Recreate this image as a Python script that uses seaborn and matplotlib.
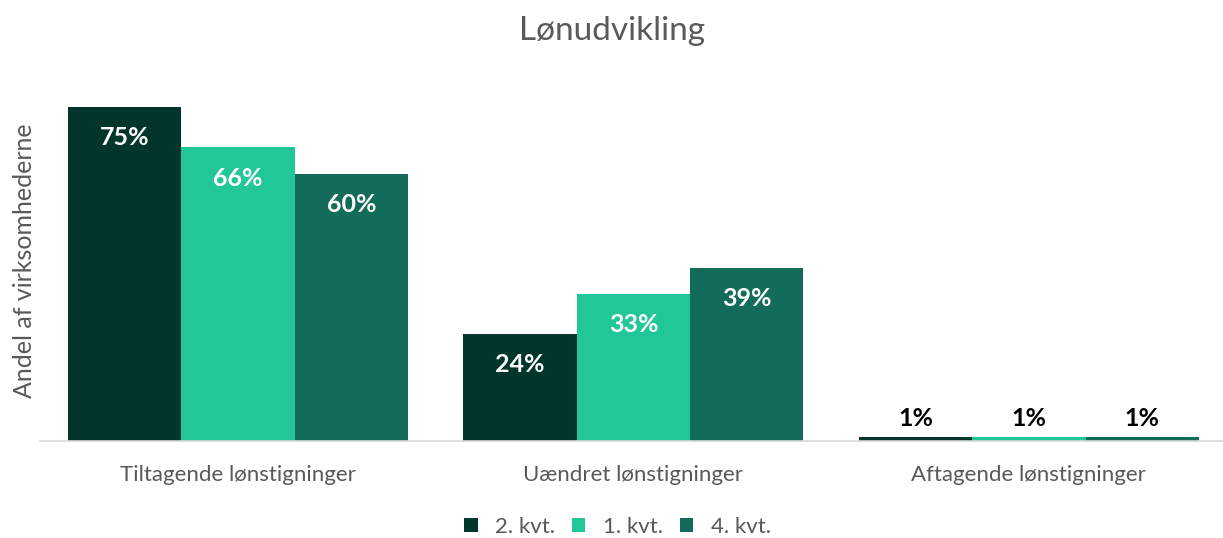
import pandas as pd
import matplotlib.pyplot as plt
import seaborn as sns

categories = ['Tiltagende lønstigninger', 'Uændret lønstigninger', 'Aftagende lønstigninger']
quarters = ['2. kvt.', '1. kvt.', '4. kvt.']
q2 = [75, 24, 1]
q1 = [66, 33, 1]
q4 = [60, 39, 1]
colors = ['#02352C', '#21C799', '#136B5A']

rows = []
for q, vals in zip(quarters, [q2, q1, q4]):
    for c, v in zip(categories, vals):
        rows.append({'kategori': c, 'kvartal': q, 'andel': v})
df = pd.DataFrame(rows)

sns.set_theme(style='white')
plt.rcParams['font.family'] = ['Lato', 'DejaVu Sans']
grey = '#595959'

fig = plt.figure(figsize=(12.23, 5.38), dpi=100)
ax = fig.add_axes([0.0329, 0.18, 0.970, 0.67])

sns.barplot(data=df, x='kategori', y='andel', hue='kvartal', hue_order=quarters,
            order=categories, palette=colors, width=0.86, saturation=1,
            edgecolor='none', ax=ax, legend=True)

for cont in ax.containers:
    for bar in cont:
        h = bar.get_height()
        xc = bar.get_x() + bar.get_width() / 2
        if h > 5:
            ax.annotate(f'{h:.0f}%', (xc, h), xytext=(0, -22), textcoords='offset points',
                        ha='center', va='center', color='white', fontsize=18, fontweight='bold')
        else:
            ax.annotate(f'{h:.0f}%', (xc, h), xytext=(0, 13), textcoords='offset points',
                        ha='center', va='center', color='black', fontsize=18, fontweight='bold')

ax.set_ylim(0, 81)
ax.set_xlim(-0.5, 2.5)
ax.set_yticks([])
ax.set_xlabel('')
ax.set_ylabel('Andel af virksomhederne', fontsize=18, color=grey, labelpad=3)
ax.tick_params(axis='x', colors=grey, labelsize=16, length=0, pad=17)
for s in ['top', 'right', 'left']:
    ax.spines[s].set_visible(False)
ax.spines['bottom'].set_color('#D9D9D9')
ax.spines['bottom'].set_linewidth(1.2)

fig.suptitle('Lønudvikling', y=0.97, fontsize=24, color=grey)

handles, labels = ax.get_legend_handles_labels()
ax.legend_.remove()
fig.legend(handles, labels, loc='center', bbox_to_anchor=(0.505, 0.02), ncol=3,
           frameon=False, fontsize=16, labelcolor=grey, handlelength=0.6,
           handleheight=0.6, handletextpad=0.8, columnspacing=0.75)

fig.savefig('out.png', dpi=100)
